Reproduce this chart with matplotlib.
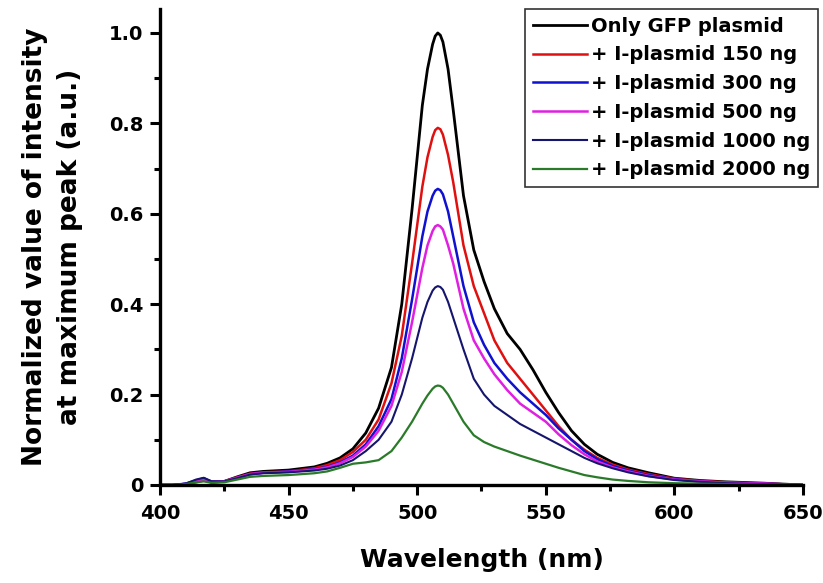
import matplotlib
matplotlib.use("Agg")
import matplotlib.pyplot as plt
from matplotlib.ticker import MultipleLocator

plt.rcParams['font.family'] = ['DejaVu Sans']
plt.rcParams['font.weight'] = 'bold'

wl = [400, 405, 410, 414, 417, 420, 425, 430, 435, 440, 450, 460, 465, 470, 475,
      480, 485, 490, 494, 498, 502, 504, 506, 507, 508, 509, 510, 512, 514, 518, 522, 526, 530, 535,
      540, 545, 550, 555, 560, 565, 570, 576, 582, 590, 600, 610, 620, 635, 650]

gfp_only = [0, 0, 0.002, 0.008, 0.012, 0.006, 0.008, 0.018, 0.027, 0.03, 0.033, 0.04, 0.048, 0.06, 0.08,
            0.115, 0.17, 0.26, 0.40, 0.61, 0.84, 0.92, 0.975, 0.993, 1.0, 0.995, 0.98, 0.92, 0.83, 0.64, 0.52, 0.45, 0.39, 0.335,
            0.30, 0.255, 0.205, 0.16, 0.12, 0.09, 0.068, 0.05, 0.038, 0.027, 0.015, 0.01, 0.007, 0.004, 0]
ip_150 = [0, 0, 0.002, 0.006, 0.01, 0.006, 0.008, 0.017, 0.025, 0.028, 0.03, 0.037, 0.044, 0.055, 0.073,
          0.10, 0.145, 0.225, 0.33, 0.49, 0.66, 0.725, 0.77, 0.785, 0.79, 0.787, 0.775, 0.73, 0.67, 0.53, 0.44, 0.38, 0.32, 0.27,
          0.235, 0.2, 0.165, 0.13, 0.1, 0.078, 0.06, 0.045, 0.034, 0.024, 0.014, 0.009, 0.006, 0.003, 0]
ip_300 = [0, 0, 0.003, 0.01, 0.015, 0.008, 0.008, 0.016, 0.024, 0.027, 0.03, 0.035, 0.04, 0.05, 0.065,
          0.09, 0.13, 0.19, 0.28, 0.41, 0.55, 0.605, 0.64, 0.651, 0.655, 0.652, 0.643, 0.605, 0.55, 0.44, 0.36, 0.31, 0.27, 0.235,
          0.205, 0.18, 0.155, 0.125, 0.1, 0.075, 0.057, 0.042, 0.032, 0.022, 0.013, 0.008, 0.005, 0.003, 0]
ip_500 = [0, 0, 0.002, 0.008, 0.012, 0.007, 0.008, 0.016, 0.024, 0.027, 0.029, 0.034, 0.039, 0.048, 0.062,
          0.085, 0.12, 0.175, 0.25, 0.36, 0.48, 0.53, 0.562, 0.572, 0.575, 0.572, 0.565, 0.53, 0.49, 0.39, 0.32, 0.28, 0.245, 0.21,
          0.18, 0.16, 0.14, 0.112, 0.088, 0.068, 0.052, 0.039, 0.03, 0.02, 0.012, 0.008, 0.005, 0.003, 0]
ip_1000 = [0, 0, 0.003, 0.012, 0.016, 0.008, 0.008, 0.015, 0.023, 0.026, 0.028, 0.032, 0.036, 0.043, 0.055,
           0.075, 0.1, 0.14, 0.2, 0.28, 0.37, 0.405, 0.43, 0.437, 0.44, 0.438, 0.432, 0.405, 0.37, 0.3, 0.235, 0.2, 0.175, 0.155,
           0.135, 0.12, 0.105, 0.09, 0.075, 0.06, 0.048, 0.037, 0.028, 0.019, 0.011, 0.007, 0.004, 0.002, 0]
ip_2000 = [0, 0, 0.002, 0.006, 0.008, 0.005, 0.006, 0.012, 0.018, 0.02, 0.022, 0.026, 0.03, 0.038, 0.047,
           0.05, 0.055, 0.075, 0.105, 0.14, 0.18, 0.198, 0.213, 0.218, 0.22, 0.219, 0.215, 0.2, 0.18, 0.14, 0.11, 0.095, 0.085, 0.075,
           0.065, 0.056, 0.047, 0.038, 0.03, 0.022, 0.017, 0.012, 0.009, 0.006, 0.004, 0.003, 0.002, 0.001, 0]

labels = ["Only GFP plasmid", "+ I-plasmid 150 ng", "+ I-plasmid 300 ng",
          "+ I-plasmid 500 ng", "+ I-plasmid 1000 ng", "+ I-plasmid 2000 ng"]
series = [gfp_only, ip_150, ip_300, ip_500, ip_1000, ip_2000]
colors = ["#000000", "#e01010", "#1010d0", "#e020e0", "#15156e", "#2a7a2a"]
widths = [2.0, 1.8, 1.8, 1.8, 1.5, 1.6]

fig = plt.figure(figsize=(8.23, 5.83), dpi=100)
ax = fig.add_axes([0.1944, 0.1681, 0.7813, 0.8165])

for y, lab, c, w in zip(series, labels, colors, widths):
    ax.plot(wl, y, color=c, lw=w, label=lab)

ax.set_xlim(400, 650)
ax.set_ylim(0, 1.053)
ax.xaxis.set_major_locator(MultipleLocator(50))
ax.xaxis.set_minor_locator(MultipleLocator(25))
ax.yaxis.set_minor_locator(MultipleLocator(0.1))
ax.set_yticks([0, 0.2, 0.4, 0.6, 0.8, 1.0])
ax.set_yticklabels(["0", "0.2", "0.4", "0.6", "0.8", "1.0"])

for s in ["top", "right"]:
    ax.spines[s].set_visible(False)
for s in ["left", "bottom"]:
    ax.spines[s].set_linewidth(2.4)

ax.tick_params(which="major", direction="out", length=7, width=2.2, labelsize=14)
ax.tick_params(axis="y", which="major", pad=5)
ax.tick_params(axis="x", which="major", pad=7)
ax.tick_params(which="minor", direction="out", length=4, width=2.2)

ax.set_xlabel("Wavelength (nm)", fontsize=18, fontweight="bold", labelpad=18)
ax.set_ylabel("Normalized value of intensity\nat maximum peak (a.u.)", fontsize=19,
              fontweight="bold", labelpad=19, linespacing=1.45)

leg = ax.legend(loc="upper right", bbox_to_anchor=(818 / 823, 1 - 9 / 583),
                bbox_transform=fig.transFigure, borderaxespad=0, fancybox=False,
                edgecolor="#333333", fontsize=14, handlelength=2.8, handletextpad=0.2,
                labelspacing=0.5, borderpad=0.4, framealpha=1)
leg.get_frame().set_linewidth(1.2)
for t in leg.get_texts():
    t.set_fontweight("bold")

fig.savefig("out.png", dpi=100)
